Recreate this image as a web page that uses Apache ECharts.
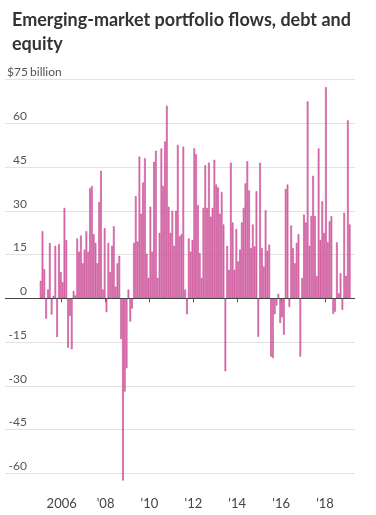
<!DOCTYPE html>
<html><head><meta charset="utf-8">
<script src="https://cdn.jsdelivr.net/npm/echarts@6/dist/echarts.min.js"></script>
<style>html,body{margin:0;padding:0;background:#fff}#c{width:376px;height:515px}</style>
</head><body><div id="c"></div>
<script>
// Monthly flows, $ billion, starting January 2005
const startYear = 2005;
const flows = [
  // 2005
  6, 23, 10, -7, 3, 19, -5.6, 0.8, 18, -13.3, 18.6, 9,
  // 2006
  5.5, 31, 20, -17, -6, -17.5, 2.5, 1, 20.5, 16, 21.5, 12,
  // 2007
  16.7, 23, 16, 37.7, 38.5, 22, 19, 12, 33, 43.7, 3, 24,
  // 2008
  -4.8, 19, 9, 18, 24.7, 4, 12, 14.6, -14, -62.5, -32, -24,
  // 2009
  3, -8, -3.5, 19, 35, 19.5, 48.6, 29, 39.7, 48, 15.3, 7,
  // 2010
  31.4, 16, 46.8, 50.6, 7, 22.4, 51.4, 38.5, 53.8, 66, 31.4, 22.4,
  // 2011
  30, 18, 30, 52.6, 21.3, 22, 52, 3, -5.5, 20.5, 16, 20,
  // 2012
  51.4, 49.4, 32, 15.5, 7, 31, 45.6, 31, 46.5, 28, 31, 47.5,
  // 2013
  39, 38, 29, 36.4, 25.3, -25, 18, 9.8, 46.5, 26, 9.8, 23.8,
  // 2014
  12.6, 16.7, 26, 31, 39.4, 47, 37, 17.2, 25.3, 17.8, 36.7, -13.2,
  // 2015
  46.5, 17.2, 10.9, 30.2, 16.3, 18.4, -20, -20.5, -5.5, -2.5, 1.5, -8.5,
  // 2016
  -6.5, -12.5, 37.5, 39, -3, 25, 17.2, 12, 19, 22, -20, 7,
  // 2017
  28.7, 26, 67.5, 18, 28.2, 42, 28.2, 7.6, 51.4, 20, 33.3, 22.4,
  // 2018
  72.4, 19.2, 26.4, 28.2, -5.4, -4.6, 19.2, 1.7, 8.6, -4, 29.3, 7.7,
  // 2019
  61, 25.3
];
// x ticks: January of even years (months since Jan 2005)
const tickYears = [2006, 2008, 2010, 2012, 2014, 2016, 2018];
const tickLabels = ['2006', "'08", "'10", "'12", "'14", "'16", "'18"];
const yTickTop = 75;

const tickMonths = tickYears.map(y => (y - startYear) * 12);
const barData = flows.map((v, i) => [i + 0.5, v]);
const FONT = 'Lato, Roboto, sans-serif';

const chart = echarts.init(document.getElementById('c'), null, {renderer: 'canvas'});
chart.setOption({
  animation: false,
  backgroundColor: '#fff',
  title: {
    text: 'Emerging-market portfolio flows, debt and\nequity',
    left: 7, top: 3,
    textStyle: {fontFamily: FONT, fontWeight: 'bold', fontSize: 18, lineHeight: 24, color: '#333'}
  },
  grid: {left: 5, right: 21, top: 79.5, bottom: 41.7, containLabel: false},
  xAxis: {
    type: 'value', min: -19, max: 172.4, position: 'bottom', offset: 16,
    axisLine: {show: false},
    splitLine: {show: false},
    axisTick: {show: true, customValues: tickMonths, length: 4, lineStyle: {color: '#555', width: 1}},
    axisLabel: {
      customValues: tickMonths, margin: 8, color: '#444', fontSize: 13, fontFamily: FONT,
      formatter: v => tickLabels[tickMonths.indexOf(Math.round(v))] || ''
    }
  },
  yAxis: {
    type: 'value', min: -60, max: 75, interval: 15,
    axisLine: {show: false}, axisTick: {show: false},
    splitLine: {show: true, lineStyle: {color: '#e2e2e2', width: 1}},
    axisLabel: {
      inside: true, margin: 3, align: 'left', verticalAlign: 'bottom',
      padding: [0, 0, 1, 0],
      color: '#555', fontSize: 12, fontFamily: FONT,
      formatter: v => v === yTickTop ? '{n|$' + v + '}{u| billion}' : '{n|' + v + '}',
      rich: {
        n: {width: 19, align: 'right', color: '#555', fontSize: 12, fontFamily: FONT},
        u: {color: '#555', fontSize: 12, fontFamily: FONT}
      }
    }
  },
  series: [{
    type: 'bar',
    data: barData,
    barWidth: 1.7,
    clip: false,
    itemStyle: {color: '#de7db5', borderColor: '#c74792', borderWidth: 0.6},
    markLine: {
      silent: true, symbol: ['none', 'none'],
      label: {show: false},
      lineStyle: {color: '#444', width: 1, type: 'solid'},
      data: [{yAxis: 0}]
    }
  }]
});
</script>
</body></html>
